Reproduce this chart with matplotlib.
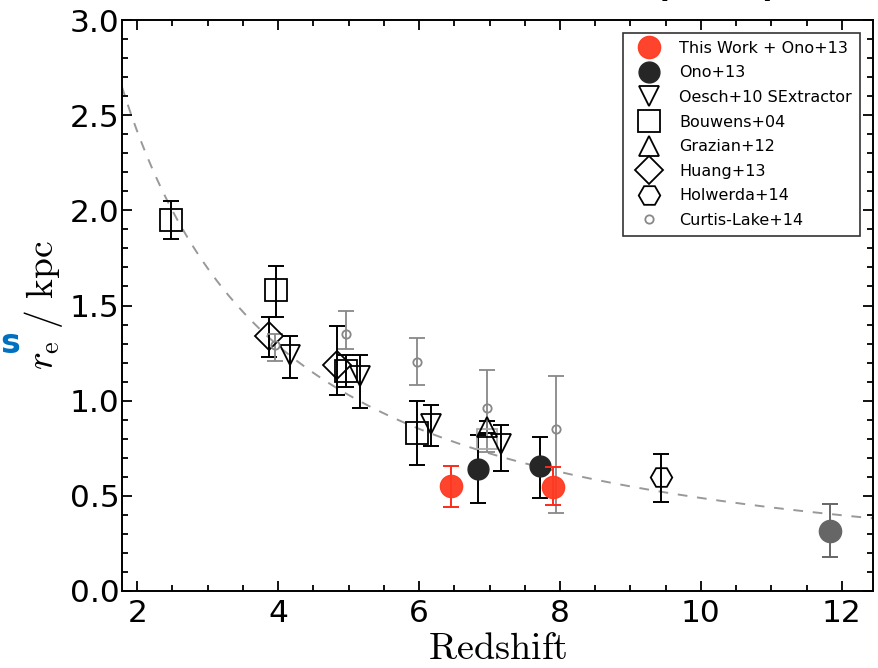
import numpy as np
import matplotlib
matplotlib.use('Agg')
import matplotlib.pyplot as plt
from matplotlib.ticker import MultipleLocator

plt.rcParams['mathtext.fontset'] = 'cm'

# --- data (redshift, r_e [kpc], err low, err high) ---
thiswork_z = [6.46, 7.90]
thiswork_r = [0.55, 0.545]
thiswork_lo = [0.11, 0.095]
thiswork_hi = [0.105, 0.105]

ono_z = [6.84, 7.72]
ono_r = [0.64, 0.655]
ono_lo = [0.18, 0.165]
ono_hi = [0.18, 0.155]

oesch_z = [4.17, 5.16, 6.17, 7.16]
oesch_r = [1.24, 1.13, 0.88, 0.77]
oesch_lo = [0.12, 0.17, 0.12, 0.14]
oesch_hi = [0.10, 0.11, 0.095, 0.10]

bouwens_z = [2.48, 3.97, 4.97, 5.97]
bouwens_r = [1.95, 1.58, 1.155, 0.83]
bouwens_lo = [0.10, 0.14, 0.085, 0.17]
bouwens_hi = [0.10, 0.13, 0.085, 0.17]

grazian_z = [6.96]
grazian_r = [0.86]
grazian_lo = [0.03]
grazian_hi = [0.035]

huang_z = [3.87, 4.83]
huang_r = [1.34, 1.19]
huang_lo = [0.11, 0.16]
huang_hi = [0.10, 0.20]

holwerda_z = [9.44]
holwerda_r = [0.60]
holwerda_lo = [0.13]
holwerda_hi = [0.12]

curtis_z = [3.96, 4.97, 5.97, 6.96, 7.95]
curtis_r = [1.29, 1.35, 1.205, 0.96, 0.85]
curtis_lo = [0.08, 0.08, 0.125, 0.23, 0.44]
curtis_hi = [0.06, 0.12, 0.125, 0.20, 0.28]

faint_sq_z = [6.97]
faint_sq_r = [0.80]

highz_z = [11.83]
highz_r = [0.316]
highz_lo = [0.14]
highz_hi = [0.142]

# dashed fit: r_e = A (1+z)^-m
fit_A = 9.33
fit_m = 1.23

fig = plt.figure(figsize=(8.79, 6.68), dpi=100)
ax = fig.add_axes([0.139, 0.1153, 0.854, 0.8547])

zz = np.linspace(1.7, 12.6, 300)
ax.plot(zz, fit_A * (1 + zz) ** (-fit_m), ls=(0, (5, 5)), color='#999999', lw=1.4, zorder=1)

def errs(z, r, lo, hi, color, lw=1.4, zorder=2):
    ax.errorbar(z, r, yerr=[lo, hi], fmt='none', ecolor=color, elinewidth=lw,
                capsize=6, capthick=lw, zorder=zorder)

errs(bouwens_z, bouwens_r, bouwens_lo, bouwens_hi, 'black')
errs(huang_z, huang_r, huang_lo, huang_hi, 'black')
errs(oesch_z, oesch_r, oesch_lo, oesch_hi, 'black')
errs(grazian_z, grazian_r, grazian_lo, grazian_hi, 'black')
errs(holwerda_z, holwerda_r, holwerda_lo, holwerda_hi, 'black')
errs(curtis_z, curtis_r, curtis_lo, curtis_hi, '#888888', lw=1.3)
errs(ono_z, ono_r, ono_lo, ono_hi, 'black')
errs(thiswork_z, thiswork_r, thiswork_lo, thiswork_hi, '#ff2a1a', zorder=4)
errs(highz_z, highz_r, highz_lo, highz_hi, '#666666')

mew = 1.3
ax.plot(faint_sq_z, faint_sq_r, 's', ms=14, mfc='none', mec='#aaaaaa', mew=mew, zorder=2)
ax.plot(thiswork_z, thiswork_r, 'o', ms=16, color='#ff3a22', mec='#ff3a22', alpha=0.95,
        label='This Work + Ono+13', zorder=5)
ax.plot(ono_z, ono_r, 'o', ms=15, color='#262626', mec='#262626', label='Ono+13', zorder=3)
ax.plot(oesch_z, oesch_r, 'v', ms=14.5, mfc='none', mec='black', mew=mew,
        label='Oesch+10 SExtractor', zorder=3)
ax.plot(bouwens_z, bouwens_r, 's', ms=16, mfc='none', mec='black', mew=mew,
        label='Bouwens+04', zorder=3)
ax.plot(grazian_z, grazian_r, '^', ms=14, mfc='none', mec='black', mew=mew,
        label='Grazian+12', zorder=3)
ax.plot(huang_z, huang_r, 'D', ms=14, mfc='none', mec='black', mew=mew,
        label='Huang+13', zorder=3)
ax.plot(holwerda_z, holwerda_r, 'H', ms=15.5, mfc='none', mec='black', mew=mew,
        label='Holwerda+14', zorder=3)
ax.plot(curtis_z, curtis_r, 'o', ms=6, mfc='none', mec='#888888', mew=1.3,
        label='Curtis-Lake+14', zorder=3)
ax.plot(highz_z, highz_r, 'o', ms=16, color='#666666', mec='#666666', zorder=3)

ax.set_xlim(1.787, 12.44)
ax.set_ylim(0, 3.0)
ax.xaxis.set_major_locator(MultipleLocator(2))
ax.xaxis.set_minor_locator(MultipleLocator(0.5))
ax.yaxis.set_major_locator(MultipleLocator(0.5))
ax.yaxis.set_minor_locator(MultipleLocator(0.1))
ax.tick_params(which='both', direction='in', top=True, right=True, width=1.3)
ax.tick_params(which='major', length=7, labelsize=22.5)
ax.tick_params(axis='x', which='major', pad=6)
ax.tick_params(axis='y', which='major', pad=2)
ax.tick_params(which='minor', length=4)
for s in ax.spines.values():
    s.set_linewidth(1.4)

ax.set_xlabel(r'$\mathrm{Redshift}$', fontsize=27.5, labelpad=2)
ax.set_ylabel(r'$r_\mathrm{e}\ /\ \mathrm{kpc}$', fontsize=27, labelpad=3)

leg = ax.legend(loc='upper right', numpoints=1, fontsize=11.5, fancybox=False,
                frameon=True, edgecolor='black', borderaxespad=0.8,
                labelspacing=0.6, handletextpad=0.8, borderpad=0.5,
                handlelength=2.2)
leg.get_frame().set_linewidth(1.2)

# fragments of surrounding slide text
fig.text(0.0, 1 - 344 / 668, 's', color='#0070c0', fontsize=24,
         fontweight='bold', ha='left', va='center')
fig.text(716 / 879, 1 + 3 / 668, '(2015)', color='black', fontsize=24,
         fontweight='bold', ha='center', va='baseline')

fig.savefig('out.png', dpi=100)
